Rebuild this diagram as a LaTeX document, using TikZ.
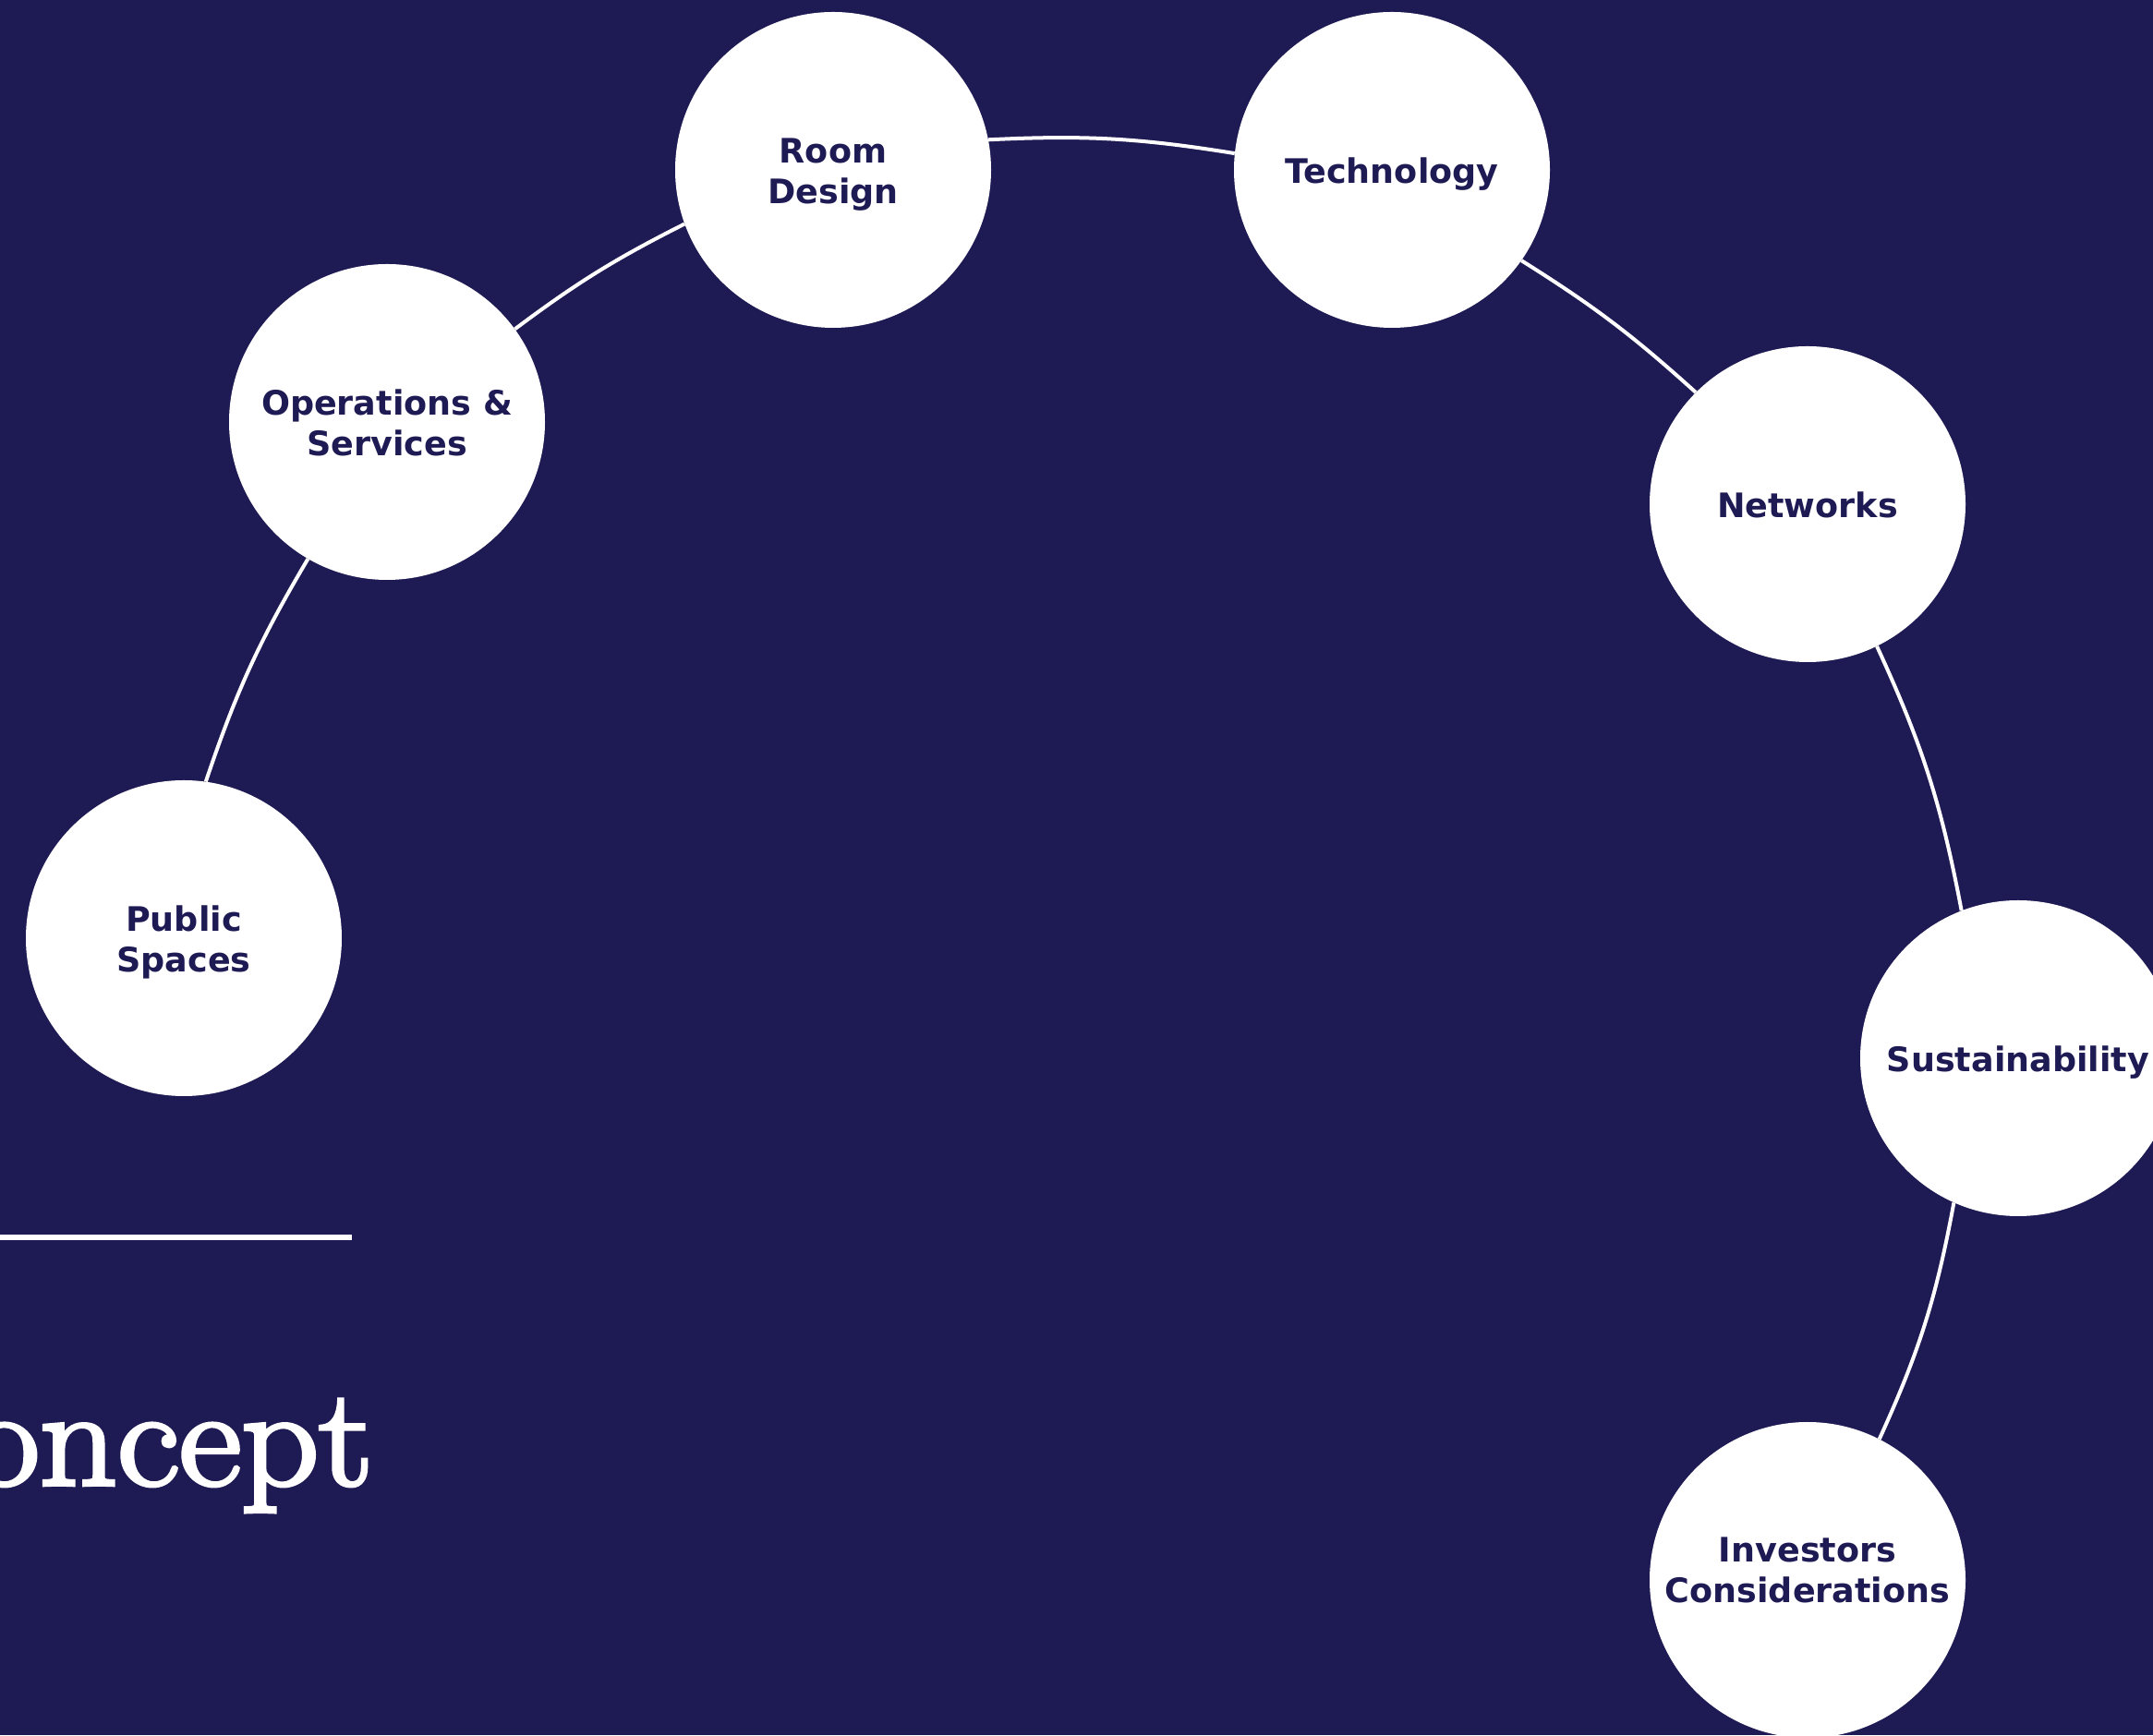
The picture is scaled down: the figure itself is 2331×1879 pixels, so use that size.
\documentclass[tikz,border=0pt]{standalone}
\usepackage{fontspec}
\newfontfamily\vfont{DejaVu Sans}
\newfontfamily\titlefont{Latin Modern Roman}[FakeStretch=1.1, FakeBold=3]
\usetikzlibrary{backgrounds}
\definecolor{navy}{RGB}{30,26,84}
\begin{document}
\begin{tikzpicture}[x=1pt,y=1pt,
  hub/.style={circle, fill=white, minimum size=342pt, inner sep=0pt,
    font=\vfont\bfseries\fontsize{36.5}{44}\selectfont, text=navy,
    align=center, text height=74pt, text depth=0pt},
  oneline/.style={text height=29pt, text depth=0pt},
  conn/.style={draw=white, line width=4pt},
  rule/.style={draw=white, line width=5.5pt}]
\useasboundingbox (0,0) rectangle (2331,1879);
\node[hub] (PS) at (199,863) {Public\\Spaces};
\node[hub] (OS) at (419,1422) {Operations \&\\Services};
\node[hub] (RD) at (902,1695) {Room\\Design};
\node[hub, oneline] (TE) at (1507,1695) {Technology};
\node[hub, oneline] (NE) at (1957,1333) {Networks};
\node[hub, oneline] (SU) at (2185,733) {Sustainability};
\node[hub, text height=70pt, text depth=20pt] (IC) at (1957,168) {Investors\\Considerations};
\node[anchor=base east, text=white, inner sep=0pt,
  font=\titlefont\fontsize{150}{180}\selectfont] (title) at (404,271) {oncept};
\coordinate (r1) at (0,539);
\coordinate (r2) at (381,539);
\begin{scope}[on background layer]
\fill[navy] (0,0) rectangle (2331,1879);
\draw[conn] (PS.82) to[bend left=6] (OS.240);
\draw[conn] (OS.36) to[bend left=5] (RD.200);
\draw[conn] (RD.11) to[bend left=6] (TE.174);
\draw[conn] (TE.-35) to[bend left=5] (NE.135);
\draw[conn] (NE.-64) to[bend left=7] (SU.111);
\draw[conn] (SU.-114) to[bend left=7] (IC.63);
\draw[rule] (r1) -- (r2);
\end{scope}
\end{tikzpicture}
\end{document}
